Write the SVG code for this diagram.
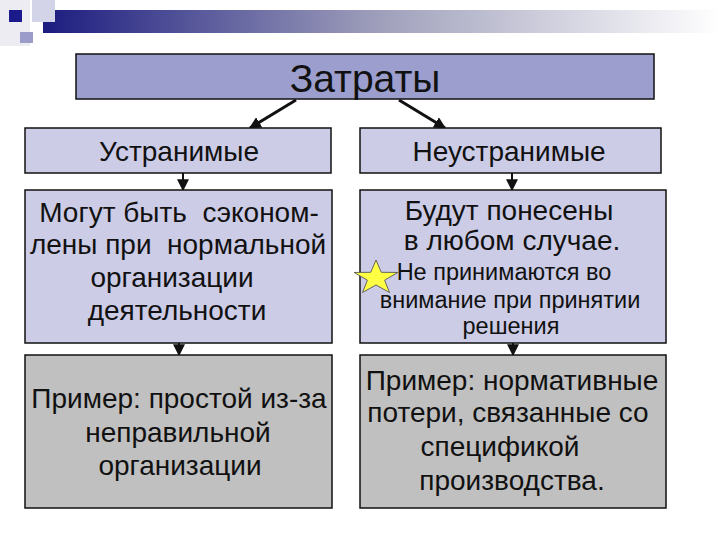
<svg xmlns="http://www.w3.org/2000/svg" width="720" height="540" viewBox="0 0 720 540">
<defs>
<linearGradient id="bar" x1="0" y1="0" x2="1" y2="0">
<stop offset="0" stop-color="#1c1c80"/>
<stop offset="0.5" stop-color="#a0a0bc"/>
<stop offset="1" stop-color="#ffffff"/>
</linearGradient>
<marker id="ah" viewBox="0 0 10 10" refX="9" refY="5" markerUnits="userSpaceOnUse" markerWidth="12" markerHeight="12" orient="auto">
<path d="M0,0 L10,5 L0,10 Z" fill="#111"/>
</marker>
<style>
.box{stroke:#111;stroke-width:1.5}
.top{fill:#9c9ecd}
.lav{fill:#ccccE6}
.gray{fill:#c0c0c0}
text{font-family:"Liberation Sans",Arial,sans-serif;fill:#111;text-anchor:middle;white-space:pre}
.t1{font-size:39px}
.t2{font-size:28px}
.t3{font-size:23.5px}
.con{stroke:#111;fill:none;marker-end:url(#ah)}
</style>
</defs>
<rect width="720" height="540" fill="#ffffff"/>
<g id="decor">
<rect x="0" y="0" width="30" height="46" fill="#ececf2"/>
<rect x="43" y="10" width="677" height="23" fill="url(#bar)"/>
<rect x="32" y="0" width="23" height="22" fill="#d4d4e8"/>
<rect x="9" y="10" width="13" height="12" fill="#1a1a8c"/>
<rect x="20" y="32" width="13" height="11" fill="#9c9cca"/>
</g>
<g id="connectors">
<line class="con" x1="296" y1="100" x2="250" y2="128" stroke-width="3"/>
<line class="con" x1="399" y1="100" x2="445" y2="128" stroke-width="3"/>
<line class="con" x1="183" y1="173" x2="183" y2="190" stroke-width="2"/>
<line class="con" x1="512" y1="173" x2="512" y2="190" stroke-width="2"/>
<line class="con" x1="179" y1="343" x2="179" y2="355" stroke-width="2"/>
<line class="con" x1="513" y1="343" x2="513" y2="355" stroke-width="2"/>
</g>
<g id="n-zatraty">
<rect class="box top" x="76" y="54" width="578" height="45"/>
<text class="t1" x="365" y="92">Затраты</text>
</g>
<g id="n-ustr">
<rect class="box lav" x="25" y="128" width="306" height="45"/>
<text class="t2" x="179" y="161">Устранимые</text>
</g>
<g id="n-neustr">
<rect class="box lav" x="360" y="128" width="301" height="45"/>
<text class="t2" x="509" y="161">Неустранимые</text>
</g>
<g id="n-mogut">
<rect class="box lav" x="25" y="190" width="307" height="153"/>
<text class="t2" x="179" y="222">Могут быть  сэконом-</text>
<text class="t2" x="178" y="254">лены при  нормальной</text>
<text class="t2" x="172" y="287">организации</text>
<text class="t2" x="177" y="320">деятельности</text>
</g>
<g id="n-budut">
<rect class="box lav" x="360" y="190" width="306" height="153"/>
<text class="t2" x="509" y="220">Будут понесены</text>
<text class="t2" x="512" y="250">в любом случае.</text>
<text class="t3" x="504" y="280">Не принимаются во</text>
<text class="t3" x="510" y="308">внимание при принятии</text>
<text class="t3" x="511" y="334">решения</text>
</g>
<g id="star">
<polygon transform="translate(376,278) scale(1,0.78)" points="0,-23 5.3,-7.3 21.9,-7.1 8.6,2.8 13.5,18.6 0,9 -13.5,18.6 -8.6,2.8 -21.9,-7.1 -5.3,-7.3" fill="#ffff44" stroke="#555" stroke-width="1"/>
</g>
<g id="n-primer1">
<rect class="box gray" x="25" y="355" width="307" height="153"/>
<text class="t2" x="179" y="408">Пример: простой из-за</text>
<text class="t2" x="178" y="442">неправильной</text>
<text class="t2" x="180" y="475">организации</text>
</g>
<g id="n-primer2">
<rect class="box gray" x="360" y="355" width="306" height="153"/>
<text class="t2" x="512" y="390">Пример: нормативные</text>
<text class="t2" x="508" y="422">потери, связанные со</text>
<text class="t2" x="500" y="456">спецификой</text>
<text class="t2" x="512" y="490">производства.</text>
</g>
</svg>
